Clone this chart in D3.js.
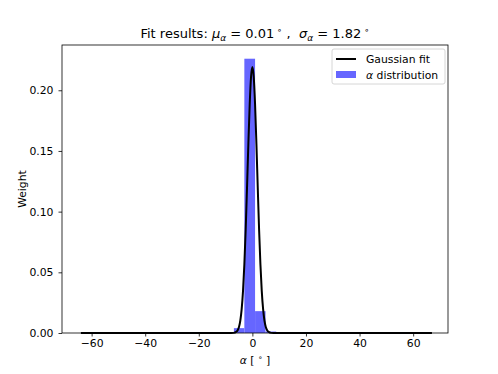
<!DOCTYPE html>
<html>
<head>
<meta charset="utf-8">
<script src="https://cdn.jsdelivr.net/npm/d3@7"></script>
<style>
  body { margin: 0; background: #fff; }
  text { font-family: "DejaVu Sans", sans-serif; fill: #000; }
</style>
</head>
<body>
<div id="chart"></div>
<script>
var svgWidth = 498;
var svgHeight = 374;

var margin = { top: 45, right: 50, bottom: 41, left: 62 };
var width = svgWidth - margin.left - margin.right;
var height = svgHeight - margin.top - margin.bottom;

// histogram of alpha (bin edges in degrees, weight per bin)
var binEdges = [-6.9, -3.0, 1.0, 4.9, 8.9];
var binWeights = [0.004, 0.226, 0.018, 0.0012];

// gaussian fit curve, sampled points
var fitX = [-64, -10, -8, -7, -6, -5.5, -5, -4.5, -4, -3.5, -3, -2.5, -2, -1.5, -1, -0.5, 0,
            0.5, 1, 1.5, 2, 2.5, 3, 3.5, 4, 4.5, 5, 5.5, 6, 7, 8, 10, 67];
var fitY = [0, 0, 0, 0.0001, 0.0010, 0.0023, 0.0050, 0.0103, 0.0196, 0.0345, 0.0564, 0.0853,
            0.1199, 0.1561, 0.1885, 0.2111, 0.2192, 0.2111, 0.1885, 0.1561, 0.1199, 0.0853,
            0.0564, 0.0345, 0.0196, 0.0103, 0.0050, 0.0023, 0.0010, 0.0001, 0, 0, 0];

var xTicks = [-60, -40, -20, 0, 20, 40, 60];
var yTicks = [0, 0.05, 0.10, 0.15, 0.20];

var svg = d3.select("#chart")
  .append("svg")
  .attr("width", svgWidth)
  .attr("height", svgHeight);

var chartGroup = svg.append("g")
  .attr("transform", `translate(${margin.left}, ${margin.top})`);

var xScale = d3.scaleLinear().domain([-71.05, 73.0]).range([0, width]);
var yScale = d3.scaleLinear().domain([0, 0.2373]).range([height, 0]);

// bars
var bins = binWeights.map((w, i) => ({ x0: binEdges[i], x1: binEdges[i + 1], w: w }));
chartGroup.selectAll("rect.bar")
  .data(bins)
  .enter()
  .append("rect")
  .attr("class", "bar")
  .attr("x", d => xScale(d.x0))
  .attr("width", d => xScale(d.x1) - xScale(d.x0))
  .attr("y", d => yScale(d.w))
  .attr("height", d => height - yScale(d.w))
  .attr("fill", "#6666ff");

// fit line
var line = d3.line()
  .x(d => xScale(d[0]))
  .y(d => yScale(d[1]))
  .curve(d3.curveMonotoneX);

chartGroup.append("path")
  .datum(fitX.map((x, i) => [x, fitY[i]]))
  .attr("d", line)
  .attr("fill", "none")
  .attr("stroke", "#000")
  .attr("stroke-width", 2);

// axes
var bottomAxis = d3.axisBottom(xScale).tickValues(xTicks).tickSize(3.5).tickPadding(3)
  .tickFormat(d => d < 0 ? "\u2212" + Math.abs(d) : d);
var leftAxis = d3.axisLeft(yScale).tickValues(yTicks).tickSize(3.5).tickPadding(5)
  .tickFormat(d3.format(".2f"));

var xAxis = chartGroup.append("g")
  .attr("transform", `translate(0, ${height})`)
  .call(bottomAxis);
var yAxis = chartGroup.append("g").call(leftAxis);

[xAxis, yAxis].forEach(function(ax) {
  ax.select(".domain").remove();
  ax.selectAll("text").style("font-size", "10.8px").attr("fill", "#000");
  ax.selectAll("line").attr("stroke", "#000").attr("stroke-width", 0.8);
});

// frame
chartGroup.append("rect")
  .attr("width", width)
  .attr("height", height)
  .attr("fill", "none")
  .attr("stroke", "#000")
  .attr("stroke-width", 0.8);

// axis labels
var xLabel = chartGroup.append("text")
  .attr("x", width / 2)
  .attr("y", height + 31)
  .attr("text-anchor", "middle")
  .style("white-space", "pre")
  .style("font-size", "10.8px");
xLabel.append("tspan").style("font-style", "italic").text("\u03b1");
xLabel.append("tspan").text(" [ ");
xLabel.append("tspan").attr("dy", -4).style("font-size", "7.5px").text("\u2218");
xLabel.append("tspan").attr("dy", 4).text(" ]");

chartGroup.append("text")
  .attr("transform", "rotate(-90)")
  .attr("x", -height / 2)
  .attr("y", -36)
  .attr("text-anchor", "middle")
  .style("font-size", "10.8px")
  .text("Weight");

// title
var title = svg.append("text")
  .attr("x", margin.left + width / 2)
  .attr("y", 38)
  .attr("text-anchor", "middle")
  .style("white-space", "pre")
  .style("font-size", "13px");
title.append("tspan").text("Fit results: ");
title.append("tspan").style("font-style", "italic").text("\u03bc");
title.append("tspan").attr("dy", 3).style("font-style", "italic").style("font-size", "9px").text("\u03b1");
title.append("tspan").attr("dy", -3).text(" = 0.01\u2009");
title.append("tspan").attr("dy", -5).style("font-size", "9px").text("\u2218");
title.append("tspan").attr("dy", 5).text(" ,  ");
title.append("tspan").style("font-style", "italic").text("\u03c3");
title.append("tspan").attr("dy", 3).style("font-style", "italic").style("font-size", "9px").text("\u03b1");
title.append("tspan").attr("dy", -3).text(" = 1.82\u2009");
title.append("tspan").attr("dy", -5).style("font-size", "9px").text("\u2218");

// legend
var legend = chartGroup.append("g")
  .attr("transform", `translate(${width - 116}, 4)`);
legend.append("rect")
  .attr("width", 113)
  .attr("height", 35)
  .attr("rx", 2)
  .attr("fill", "#fff")
  .attr("fill-opacity", 0.8)
  .attr("stroke", "#cccccc")
  .attr("stroke-width", 0.8);
legend.append("line")
  .attr("x1", 4).attr("x2", 24)
  .attr("y1", 10).attr("y2", 10)
  .attr("stroke", "#000").attr("stroke-width", 2);
legend.append("text")
  .attr("x", 34).attr("y", 14)
  .style("font-size", "10.8px")
  .text("Gaussian fit");
legend.append("rect")
  .attr("x", 4).attr("y", 22)
  .attr("width", 20).attr("height", 7)
  .attr("fill", "#6666ff");
var lt = legend.append("text")
  .attr("x", 34).attr("y", 30)
  .style("font-size", "10.8px");
lt.append("tspan").style("font-style", "italic").text("\u03b1");
lt.append("tspan").text(" distribution");
</script>
</body>
</html>
